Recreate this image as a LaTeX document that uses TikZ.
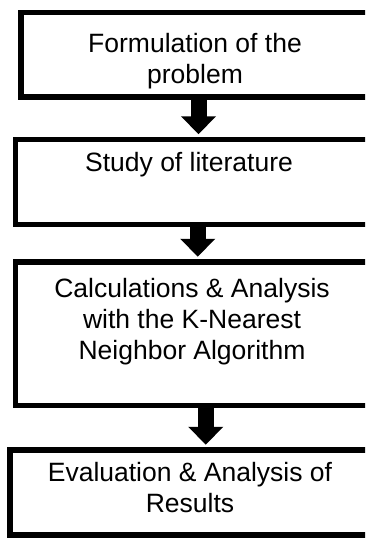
\documentclass[tikz,border=0pt]{standalone}
\usepackage{fontspec}
\setmainfont{Liberation Sans}
\usetikzlibrary{arrows.meta}

\tikzset{
  stepbox/.style={draw, line width=5.5pt, rectangle, inner sep=0pt},
  steptext/.style={anchor=north, align=center, inner sep=0pt,
    font=\fontsize{26.5pt}{31pt}\selectfont},
  flow/.style={line width=16pt, -{Triangle[width=34pt,length=18pt]}, shorten >=2.5pt}
}

\begin{document}
\begin{tikzpicture}[x=1pt, y=-1pt]

    \clip (0,0) rectangle (365,538);

    \node [stepbox, minimum width=351pt, minimum height=84.5pt] (a) at (196.5, 54.75) {};
    \node [stepbox, minimum width=356.5pt, minimum height=85pt] (b) at (193.75, 182) {};
    \node [stepbox, minimum width=356.5pt, minimum height=143.5pt] (c) at (193.75, 333.75) {};
    \node [stepbox, minimum width=362pt, minimum height=85pt] (d) at (191, 492.5) {};

    \node [steptext] (e) at (195, 33) {Formulation of the\\problem};
    \node [steptext] (f) at (189, 152) {Study of literature};
    \node [steptext] (g) at (192, 278) {Calculations \& Analysis\\with the K-Nearest\\Neighbor Algorithm};
    \node [steptext] (h) at (190, 462) {Evaluation \& Analysis of\\Results};

    \draw [flow] ([xshift=2pt]a.south) -- ([xshift=2pt]a.south |- b.north);
    \draw [flow] ([xshift=4pt]b.south) -- ([xshift=4pt]b.south |- c.north);
    \draw [flow] ([xshift=12pt]c.south) -- ([xshift=12pt]c.south |- d.north);

  \end{tikzpicture}
\end{document}
